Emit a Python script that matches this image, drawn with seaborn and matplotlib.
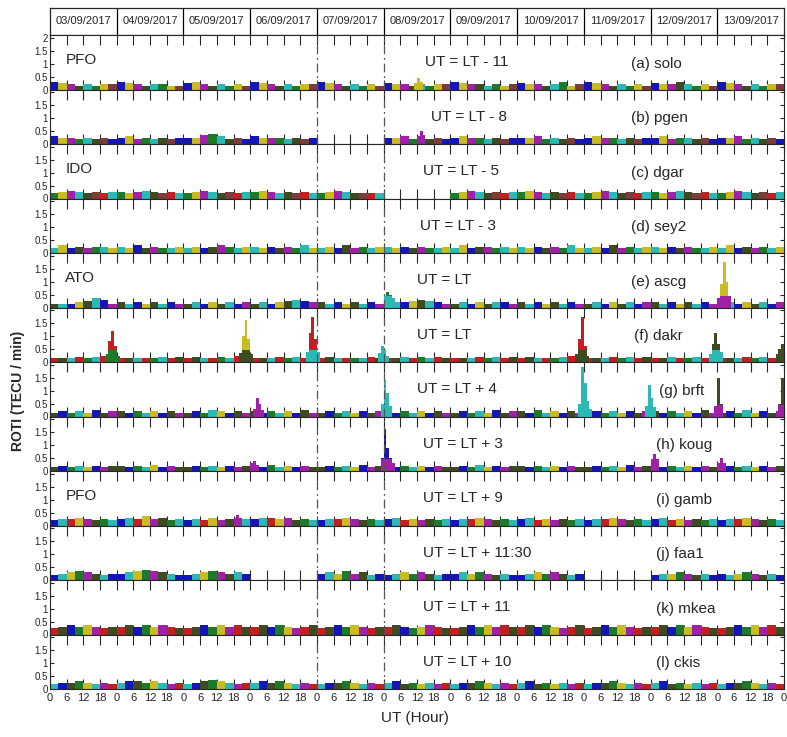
import numpy as np
import pandas as pd
import matplotlib
matplotlib.use("Agg")
import matplotlib.pyplot as plt
import seaborn as sns

# ---- data ----
days = ["03/09/2017", "04/09/2017", "05/09/2017", "06/09/2017", "07/09/2017", "08/09/2017",
        "09/09/2017", "10/09/2017", "11/09/2017", "12/09/2017", "13/09/2017"]
stations = ["(a) solo", "(b) pgen", "(c) dgar", "(d) sey2", "(e) ascg", "(f) dakr",
            "(g) brft", "(h) koug", "(i) gamb", "(j) faa1", "(k) mkea", "(l) ckis"]
ut_lt = ["UT = LT - 11", "UT = LT - 8", "UT = LT - 5", "UT = LT - 3", "UT = LT", "UT = LT",
         "UT = LT + 4", "UT = LT + 3", "UT = LT + 9", "UT = LT + 11:30", "UT = LT + 11", "UT = LT + 10"]
region_rows = [0, 2, 4, 8]
region_names = ["PFO", "IDO", "ATO", "PFO"]
storm_hours = [96, 120]

# 3-hourly ROTI level, one digit = 0.05 TECU/min, 'x' = no data (8 blocks per day)
solo = "65434344 65434433 56434343 65434344 65434343 54434344 65443434 54434634 65434343 54464343 65434344"
pgen = "65545454 56454545 55786454 65554545 xxxxxxxx 55646454 56554545 55645454 56554545 56455454 55645454"
dgar = "45654545 54565454 45654545 56545454 45654444 xxxxxxxx 45654545 56545454 45654545 54565454 45654545"
sey2 = "46454554 54645445 45456545 54545464 45464545 54545445 46455454 54545464 45464545 54545445 46454545"
ascg = "33345763 43434343 34343434 34345654 43434343 44456543 34343443 43434343 34343434 43434343 34343434"
dakr = "33343454 33333434 34334354 33343434 34333343 33434343 33343434 34333454 33343434 33433434 33343434"
brft = "34343534 43434343 34354343 43434353 34343434 53434343 34343534 43534343 34343434 43434353 34353434"
koug = "34343434 43435343 34343434 43534343 34343534 43434343 34353434 43434343 34343534 43434343 34343434"
gamb = "45565454 56575645 45464545 56656454 45565454 56454545 45565454 56454545 45565454 56454545 45565454"
faa1 = "45676545 56787654 45676565 xxxxxxxx 56575645 45656545 56565454 45656545 xxxxxxxx 45565454 54565454"
mkea = "56767656 67676765 56767676 67676567 56767656 67656765 56767676 67676567 56767656 67676765 56767676"
ckis = "45565454 56656545 45676545 56565454 45565454 56454545 45565454 56454545 45565454 56454545 45565454"
roti_levels = [solo, pgen, dgar, sey2, ascg, dakr, brft, koug, gamb, faa1, mkea, ckis]

# irregularity peaks: panel, first hour, hourly ROTI values
spike_panel = [0, 1, 4, 4, 5, 5, 5, 5, 5, 5, 5, 6, 6, 6, 6, 6, 6, 7, 7, 7, 7, 8]
spike_start = [131, 132, 120, 240, 20, 68, 92, 118, 189, 237, 261, 73, 119, 190, 214, 239, 262,
               72, 119, 216, 240, 66]
spike_vals = [[0.25, 0.45, 0.3], [0.3, 0.5, 0.35], [0.45, 0.6, 0.5, 0.35],
              [0.35, 0.9, 1.75, 1.0, 0.45],
              [0.3, 0.8, 1.2, 0.6, 0.25], [0.35, 1.0, 1.6, 0.9, 0.3], [0.4, 1.1, 1.75, 0.9, 0.4],
              [0.35, 0.6, 0.45, 0.25], [0.3, 0.9, 1.75, 0.6, 0.25], [0.3, 0.7, 1.1, 0.7, 0.4],
              [0.3, 0.5, 0.7],
              [0.3, 0.7, 0.5, 0.25], [0.5, 1.4, 0.9, 0.4], [0.5, 1.9, 1.3, 0.6, 0.3],
              [0.4, 1.2, 0.7, 0.35], [0.4, 1.5, 0.5], [0.5, 1.5],
              [0.3, 0.4, 0.25], [0.5, 1.6, 0.9, 0.5, 0.3], [0.45, 0.65, 0.45], [0.3, 0.5, 0.3],
              [0.3, 0.4, 0.3]]

# ---- style ----
sat_colors = {"b": "#1616b8", "y": "#c8bc22", "m": "#a020a8", "g": "#1e7a2a", "c": "#2cb8b4",
              "r": "#c02020", "k": "#3e4a22", "n": "#7c3c3c"}
sat_cycle = ["bymkcgyn", "bymgcknb", "gymcknrc", "cybkmgcy", "kcbykcbm", "rkcrgcrk",
             "kbgcybkm", "kbgcybmk", "bcrymkgc", "bcygmkcb", "rkbgymrk", "cbkgycmr"]
spike_top = ["n", "m", "g", "y", "r", "y", "r", "c", "r", "k", "k", "m", "c", "c", "c", "k", "k",
             "m", "b", "m", "m", "m"]
spike_base = ["y", "m", "c", "m", "g", "k", "c", "c", "k", "c", "k", "m", "c", "c", "c", "m", "m",
              "m", "m", "m", "m", "m"]
utlt_x = [135, 137, 134, 133, 132, 132, 132, 134, 134, 134, 134, 134]
station_x = [209, 209, 209, 209, 209, 210, 219, 218, 218, 218, 218, 218]

sns.set_style("ticks")
plt.rcParams["font.family"] = ["Liberation Sans Narrow", "Liberation Sans", "DejaVu Sans"]

W, H = 787, 737
fig = plt.figure(figsize=(W / 100, H / 100), dpi=100)
x0, x1 = 50 / W, 784 / W
top_px, bot_px = 35, 689
ph = (bot_px - top_px) / 12
n_hours = 24 * len(days)

# date header
axh = fig.add_axes([x0, 1 - top_px / H, x1 - x0, 27 / H])
axh.set_xlim(0, n_hours)
axh.set_ylim(0, 1)
for i, d in enumerate(days):
    if i > 0:
        axh.axvline(i * 24, color="black", lw=0.9)
    axh.text(i * 24 + 12, 0.5, d, ha="center", va="center", fontsize=8)
axh.set_xticks([])
axh.set_yticks([])
for s in axh.spines.values():
    s.set_linewidth(0.9)

axes = []
for p in range(12):
    ax = fig.add_axes([x0, 1 - (top_px + (p + 1) * ph) / H, x1 - x0, ph / H])
    axes.append(ax)
    vals = roti_levels[p].replace(" ", "")
    rows = []
    for b, c in enumerate(vals):
        if c == "x":
            continue
        rows.append({"hour": b * 3 + 1.5, "roti": int(c) * 0.05, "sat": sat_cycle[p][b % 8]})
    df = pd.DataFrame(rows)
    sns.histplot(data=df, x="hour", weights="roti", hue="sat", palette=sat_colors,
                 binwidth=3, binrange=(0, n_hours), multiple="layer", element="bars",
                 alpha=1, linewidth=0, legend=False, ax=ax)
    for k in range(len(spike_panel)):
        if spike_panel[k] != p:
            continue
        hrs = spike_start[k] + np.arange(len(spike_vals[k])) + 0.5
        v = np.array(spike_vals[k])
        ax.bar(hrs, v, width=1.0, color=sat_colors[spike_top[k]], linewidth=0, zorder=3)
        ax.bar(hrs, np.minimum(v, 0.45), width=1.0, color=sat_colors[spike_base[k]], linewidth=0, zorder=3)
    for h in storm_hours:
        ax.axvline(h, color="#555555", lw=0.9, ls=(0, (7, 3, 1.5, 3)), zorder=4)

    ax.set_xlim(0, n_hours)
    ax.set_ylim(0, 2.1)
    ax.set_xlabel("")
    ax.set_ylabel("")
    ax.set_yticks([0, 0.5, 1, 1.5, 2])
    ax.set_yticklabels(["0", "0.5", "1", "1.5", "2" if p == 0 else ""], fontsize=7)
    ax.set_xticks(np.arange(0, n_hours + 1, 6))
    ax.set_xticklabels([str(h % 24) for h in range(0, n_hours + 1, 6)], fontsize=8)
    ax.tick_params(axis="x", direction="in", length=7, width=0.8, top=True, bottom=True,
                   labelbottom=(p == 11), pad=3)
    ax.tick_params(axis="y", direction="in", length=3, width=0.8, left=True, right=True, pad=1.5)
    for s in ax.spines.values():
        s.set_linewidth(0.8)
        s.set_zorder(2)

    ax.text(utlt_x[p], 1.05, ut_lt[p], fontsize=11, va="center", ha="left")
    ax.text(station_x[p], 1.0, stations[p], fontsize=11, va="center", ha="left")
    if p in region_rows:
        ax.text(5.5, 1.15, region_names[region_rows.index(p)], fontsize=11, va="center", ha="left")

fig.text(18 / W, 0.47, "ROTI (TECU / min)", rotation=90, ha="center", va="center",
         fontsize=10, fontweight="bold", family=["Liberation Sans", "DejaVu Sans"])
fig.text(415 / W, 1 - 718 / H, "UT (Hour)", ha="center", va="center", fontsize=11)

fig.savefig("out.png", dpi=100)
